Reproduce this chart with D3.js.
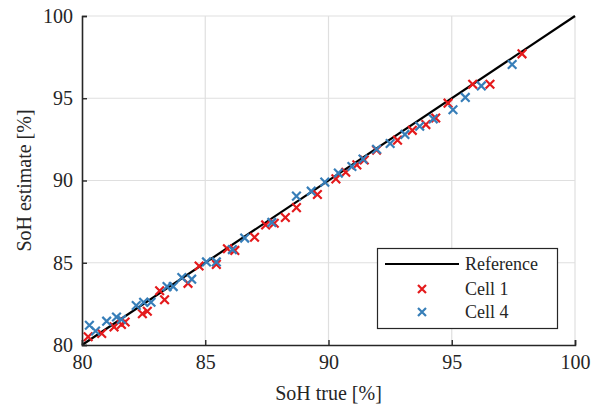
<!DOCTYPE html>
<html>
<head>
<meta charset="utf-8">
<script src="https://cdn.jsdelivr.net/npm/d3@7"></script>
<style>
  html, body { margin: 0; padding: 0; background: #fff; }
  svg { display: block; }
  svg text { fill: #262626; }
</style>
</head>
<body>
<svg id="chart" width="592" height="406"></svg>
<script>
// SoH estimates against true SoH for two cells
const xTicks = [80, 85, 90, 95, 100];
const yTicks = [80, 85, 90, 95, 100];
const referenceLine = [[80, 80], [100, 100]];

const cell1True = [80.25, 80.80, 81.30, 81.60, 81.75, 82.45, 82.65, 83.35, 83.15, 84.30,
  84.75, 85.45, 85.90, 86.20, 87.00, 87.45, 87.80, 88.25, 88.70, 89.55,
  90.30, 90.70, 91.15, 91.45, 91.95, 92.80, 93.40, 93.95, 94.35, 94.85,
  95.85, 96.55, 97.85];
const cell1Est = [80.50, 80.70, 81.10, 81.25, 81.40, 81.90, 82.05, 82.75, 83.30, 83.75,
  84.80, 84.90, 85.85, 85.75, 86.55, 87.30, 87.40, 87.75, 88.35, 89.15,
  90.10, 90.50, 90.95, 91.25, 91.85, 92.45, 93.05, 93.40, 93.80, 94.70,
  95.85, 95.85, 97.70];

const cell4True = [80.30, 80.55, 81.00, 81.40, 81.60, 82.20, 82.50, 82.80, 83.45, 83.70,
  84.05, 84.45, 85.05, 85.45, 86.10, 86.60, 87.70, 88.70, 89.30, 89.85,
  90.40, 90.95, 91.40, 91.95, 92.50, 93.10, 93.70, 94.25, 95.05, 95.55,
  96.20, 97.45];
const cell4Est = [81.20, 80.85, 81.45, 81.70, 81.55, 82.40, 82.60, 82.60, 83.55, 83.55,
  84.10, 84.00, 85.05, 85.05, 85.80, 86.50, 87.45, 89.05, 89.35, 89.90,
  90.45, 90.85, 91.30, 91.90, 92.25, 92.80, 93.30, 93.75, 94.30, 95.05,
  95.75, 97.05];

const seriesNames = ["Reference", "Cell 1", "Cell 4"];
const colors = { ref: "#000000", cell1: "#e41a1c", cell4: "#377eb8" };
const FONT = "'Liberation Serif', 'Times New Roman', serif";

const svg = d3.select("#chart").attr("font-family", FONT);
const m = { left: 82, right: 17, top: 16, bottom: 61 };
const W = 592, H = 406;
const x = d3.scaleLinear().domain([80, 100]).range([m.left, W - m.right]);
const y = d3.scaleLinear().domain([80, 100]).range([H - m.bottom, m.top]);

// grid
const grid = svg.append("g");
grid.selectAll("line.gx").data(xTicks.filter(t => t > 80)).join("line")
  .attr("x1", d => x(d)).attr("x2", d => x(d))
  .attr("y1", y(80)).attr("y2", y(100))
  .attr("stroke", "#dfdfdf").attr("stroke-width", 1.2);
grid.selectAll("line.gy").data(yTicks.filter(t => t > 80)).join("line")
  .attr("x1", x(80)).attr("x2", x(100))
  .attr("y1", d => y(d)).attr("y2", d => y(d))
  .attr("stroke", "#dfdfdf").attr("stroke-width", 1.2);

// reference line
const line = d3.line().x(d => x(d[0])).y(d => y(d[1]));
svg.append("path").datum(referenceLine)
  .attr("d", line).attr("fill", "none")
  .attr("stroke", colors.ref).attr("stroke-width", 2.2);

// x markers
function cross(g, cx, cy, r, color) {
  g.append("path")
    .attr("d", `M${cx - r},${cy - r}L${cx + r},${cy + r}M${cx - r},${cy + r}L${cx + r},${cy - r}`)
    .attr("stroke", color).attr("stroke-width", 2.2).attr("fill", "none");
}
const marks = svg.append("g");
cell1True.forEach((t, i) => cross(marks, x(t), y(cell1Est[i]), 4.3, colors.cell1));
cell4True.forEach((t, i) => cross(marks, x(t), y(cell4Est[i]), 4.3, colors.cell4));

// axes
const xAxis = d3.axisBottom(x).tickValues(xTicks).tickSize(-5).tickPadding(10).tickFormat(d3.format("d"));
const yAxis = d3.axisLeft(y).tickValues(yTicks).tickSize(-5).tickPadding(9).tickFormat(d3.format("d"));
const gx = svg.append("g").attr("transform", `translate(0,${y(80)})`).call(xAxis);
const gy = svg.append("g").attr("transform", `translate(${x(80)},0)`).call(yAxis);
[gx, gy].forEach(g => {
  g.attr("font-family", FONT);
  g.select(".domain").attr("stroke", "#262626").attr("stroke-width", 1.6);
  g.selectAll(".tick line").attr("stroke", "#262626").attr("stroke-width", 1.4);
  g.selectAll(".tick text").attr("font-size", 20).attr("fill", "#262626");
});

// axis titles
svg.append("text").attr("x", (x(80) + x(100)) / 2).attr("y", 400)
  .attr("text-anchor", "middle").attr("font-size", 20).text("SoH true [%]");
svg.append("text").attr("transform", `translate(31,${(y(80) + y(100)) / 2}) rotate(-90)`)
  .attr("text-anchor", "middle").attr("font-size", 20).text("SoH estimate [%]");

// legend
const lg = svg.append("g");
lg.append("rect").attr("x", 377.5).attr("y", 248.5).attr("width", 180).attr("height", 80)
  .attr("fill", "#fff").attr("stroke", "#262626").attr("stroke-width", 1.2);
lg.append("line").attr("x1", 385).attr("x2", 459).attr("y1", 264).attr("y2", 264)
  .attr("stroke", colors.ref).attr("stroke-width", 2.2);
cross(lg, 422, 289, 4, colors.cell1);
cross(lg, 422, 312, 4, colors.cell4);
[[seriesNames[0], 270], [seriesNames[1], 295], [seriesNames[2], 318]].forEach(([t, yy]) => {
  lg.append("text").attr("x", 465).attr("y", yy).attr("font-size", 18).text(t);
});
</script>
</body>
</html>
